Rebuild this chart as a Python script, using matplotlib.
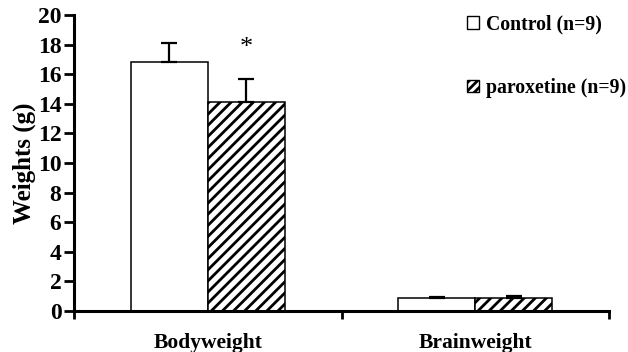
import matplotlib
matplotlib.use("Agg")
import matplotlib.pyplot as plt
import numpy as np
from matplotlib.patches import Patch

categories = ["Bodyweight", "Brainweight"]
series_names = ["Control (n=9)", "paroxetine (n=9)"]
control = [16.8, 0.85]
control_err = [1.3, 0.12]
parox = [14.15, 0.85]
parox_err = [1.5, 0.13]
yticks = [0, 2, 4, 6, 8, 10, 12, 14, 16, 18, 20]

plt.rcParams['font.family'] = ['Liberation Serif', 'DejaVu Serif']
plt.rcParams['hatch.linewidth'] = 2.0

fig = plt.figure(figsize=(6.28, 3.52), dpi=100)
ax = fig.add_axes([74/628, 1-311/352, (609-74)/628, (311-15)/352])

x = np.arange(len(categories)) + 0.5
w = 0.287
ekw = dict(elinewidth=1.6, capthick=1.6, capsize=5.5, ecolor='black')
ax.bar(x - w/2, control, w, color='white', edgecolor='black', linewidth=1.1,
       yerr=[[0]*len(control), control_err], error_kw=ekw, zorder=2)
ax.bar(x + w/2, parox, w, color='white', edgecolor='black', linewidth=1.1, hatch='///',
       yerr=[[0]*len(parox), parox_err], error_kw=ekw, zorder=2)

ax.text(x[0] + w/2, parox[0] + parox_err[0] + 2.1, "*", ha='center', va='center', fontsize=19)

ax.set_xlim(0, len(categories))
ax.set_ylim(0, 20)
ax.set_yticks(yticks)
ax.set_yticklabels([str(t) for t in yticks], fontsize=17, fontweight='bold')
ax.set_xticks(np.arange(len(categories)+1))
ax.set_xticklabels([])
ax.set_xticks(x, minor=True)
ax.set_xticklabels(categories, minor=True, fontsize=15.5, fontweight='bold')
ax.tick_params(axis='x', which='minor', length=0, pad=16)
ax.tick_params(axis='x', which='major', length=6, width=2, direction='out')
ax.tick_params(axis='y', length=7, width=2, direction='out', pad=2)
ax.set_ylabel("Weights (g)", fontsize=18, fontweight='bold', labelpad=1)

for s in ['top', 'right']:
    ax.spines[s].set_visible(False)
for s in ['left', 'bottom']:
    ax.spines[s].set_linewidth(2.2)

handles = [Patch(facecolor='white', edgecolor='black', linewidth=1.0),
           Patch(facecolor='white', edgecolor='black', linewidth=1.0, hatch='////')]
leg = ax.legend(handles, series_names, loc='upper left', bbox_to_anchor=(0.72, 1.028),
                frameon=False, prop={'weight': 'bold', 'size': 14.2},
                handlelength=0.6, handleheight=0.6, handletextpad=0.35, labelspacing=2.2,
                borderaxespad=0)

fig.savefig("out.png", dpi=100)
